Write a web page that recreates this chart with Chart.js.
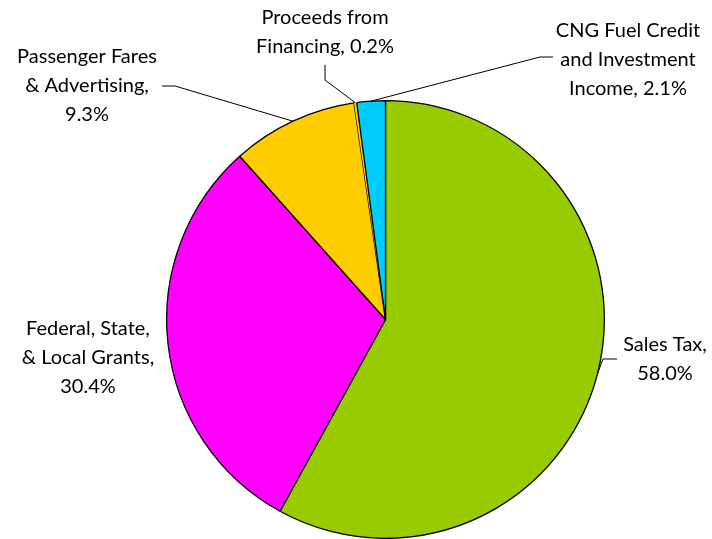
<!DOCTYPE html>
<html>
<head>
<meta charset="utf-8">
<script src="https://cdn.jsdelivr.net/npm/chart.js@4/dist/chart.umd.min.js"></script>
<style>
html,body{margin:0;padding:0;background:#fff;}
#wrap{position:relative;width:712px;height:539px;}
</style>
</head>
<body>
<div id="wrap"><canvas id="c" width="712" height="539"></canvas></div>
<script>
// ---- data ----
const categories = ["Sales Tax", "Federal, State, & Local Grants", "Passenger Fares & Advertising", "Proceeds from Financing", "CNG Fuel Credit and Investment Income"];
const shares = [58.0, 30.4, 9.3, 0.2, 2.1];
const labelLines = [
  ["Sales Tax,", "58.0%"],
  ["Federal, State,", "& Local Grants,", "30.4%"],
  ["Passenger Fares", "& Advertising,", "9.3%"],
  ["Proceeds from", "Financing, 0.2%"],
  ["CNG Fuel Credit", "and Investment", "Income, 2.1%"]
];
const colors = ["#99CC00", "#FF00FF", "#FFCC00", "#FFCC00", "#00CCFF"];

// ---- label layout (positions of annotation text and leader elbows) ----
const labelLayout = [
  {cx: 665, y0: 351, leader: [[617, 359], [603, 359]]},
  {cx: 88,  y0: 335, leader: null},
  {cx: 87,  y0: 63,  leader: [[162, 86], [175, 86]]},
  {cx: 325, y0: 24,  leader: [[325, 65], [325, 80]]},
  {cx: 628, y0: 37,  leader: [[553, 57], [540, 57]]}
];
const lineHeight = 29;

const labelPlugin = {
  id: 'pieLabels',
  afterDatasetsDraw(chart) {
    const ctx = chart.ctx;
    const meta = chart.getDatasetMeta(0);
    ctx.save();
    ctx.font = '20px Lato';
    ctx.fillStyle = '#000';
    ctx.textAlign = 'center';
    ctx.textBaseline = 'alphabetic';
    meta.data.forEach((arc, i) => {
      const L = labelLayout[i];
      labelLines[i].forEach((t, k) => ctx.fillText(t, L.cx, L.y0 + k * lineHeight));
      if (L.leader) {
        const p = arc.getProps(['x', 'y', 'startAngle', 'endAngle', 'outerRadius'], true);
        const mid = (p.startAngle + p.endAngle) / 2;
        const ex = p.x + Math.cos(mid) * p.outerRadius;
        const ey = p.y + Math.sin(mid) * p.outerRadius;
        ctx.beginPath();
        ctx.strokeStyle = '#000';
        ctx.lineWidth = 1;
        ctx.moveTo(L.leader[0][0], L.leader[0][1]);
        ctx.lineTo(L.leader[1][0], L.leader[1][1]);
        ctx.lineTo(ex, ey);
        ctx.stroke();
      }
    });
    ctx.restore();
  }
};

new Chart(document.getElementById('c'), {
  type: 'pie',
  data: {
    labels: categories,
    datasets: [{
      data: shares,
      backgroundColor: colors,
      borderColor: '#000',
      borderWidth: [1.3, 1.3, 1.3, 0, 1.3],
      hoverOffset: 0
    }]
  },
  options: {
    responsive: false,
    animation: false,
    layout: {padding: {left: 166, right: 107, top: 100, bottom: 0}},
    plugins: {legend: {display: false}, tooltip: {enabled: false}},
    events: []
  },
  plugins: [labelPlugin]
});
</script>
</body>
</html>
